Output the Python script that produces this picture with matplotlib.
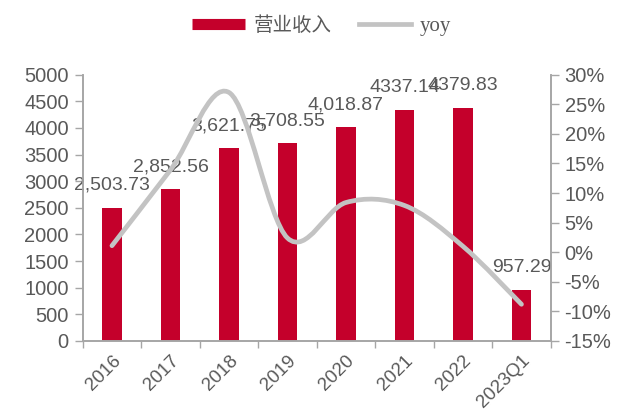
import numpy as np
import matplotlib.pyplot as plt
from matplotlib.path import Path
from matplotlib.patches import PathPatch
from matplotlib.lines import Line2D
from matplotlib.ticker import FuncFormatter, MultipleLocator, FixedLocator

# 营业收入（亿元）与同比增速
jaren = ['2016', '2017', '2018', '2019', '2020', '2021', '2022', '2023Q1']
omzet = [2503.73, 2852.56, 3621.75, 3708.55, 4018.87, 4337.14, 4379.83, 957.29]
yoy = [1.1, 13.9, 27.0, 2.4, 8.4, 7.9, 1.0, -8.8]
# 2021 en 2022 staan zonder duizendtal-komma in de labels
met_komma = [True, True, True, True, True, False, False, True]

rood = '#C4002B'
grijs_lijn = '#C3C3C3'
tekst = '#595959'
as_kleur = '#A6A6A6'

plt.rcParams['font.family'] = ['Liberation Sans', 'DejaVu Sans']

fig = plt.figure(figsize=(6.19, 4.17), dpi=100)
ax = fig.add_axes([0.1336, 0.1823, 0.8897 - 0.1336, 0.8209 - 0.1823])
ax2 = ax.twinx()

x = np.arange(len(jaren))
ax.bar(x, omzet, width=0.33, color=rood, zorder=2)

for xi, v, k in zip(x, omzet, met_komma):
    s = f'{v:,.2f}' if k else f'{v:.2f}'
    ax.annotate(s, (xi, v), xytext=(0, 10), textcoords='offset points',
                ha='center', va='bottom', fontsize=14, color=tekst, zorder=3)

ax.set_xlim(-0.5, len(jaren) - 0.5)
ax.set_ylim(0, 5000)
ax.yaxis.set_major_locator(MultipleLocator(500))
ax2.set_ylim(-15, 30)
ax2.yaxis.set_major_locator(MultipleLocator(5))
ax2.yaxis.set_major_formatter(FuncFormatter(lambda v, p: f'{v:.0f}%'))

# gladde lijn: bezier-segmenten (Catmull-Rom) door de yoy-punten
p = list(zip(x.astype(float), yoy))
verts = [p[0]]
codes = [Path.MOVETO]
for i in range(len(p) - 1):
    p0 = p[i - 1] if i > 0 else p[i]
    p1, p2 = p[i], p[i + 1]
    p3 = p[i + 2] if i + 2 < len(p) else p[i + 1]
    c1 = (p1[0] + (p2[0] - p0[0]) / 6, p1[1] + (p2[1] - p0[1]) / 6)
    c2 = (p2[0] - (p3[0] - p1[0]) / 6, p2[1] - (p3[1] - p1[1]) / 6)
    verts += [c1, c2, p2]
    codes += [Path.CURVE4] * 3
lijn = PathPatch(Path(verts, codes), facecolor='none', edgecolor=grijs_lijn,
                 lw=3.4, capstyle='round', joinstyle='round', zorder=4)
ax2.add_patch(lijn)
ax2.set_zorder(ax.get_zorder() + 1)
ax2.patch.set_visible(False)

# categorieen: labels in het midden, streepjes op de grenzen
ax.set_xticks(x)
ax.set_xticklabels(jaren, rotation=45, ha='right', rotation_mode='anchor')
ax.xaxis.set_minor_locator(FixedLocator(np.arange(-0.5, len(jaren), 1)))
ax.tick_params(axis='x', which='major', length=0, pad=8, labelsize=13.5, labelcolor=tekst)
ax.tick_params(axis='x', which='minor', length=5, width=1, color=as_kleur, direction='out')
ax.tick_params(axis='y', length=6, width=1, color=as_kleur, labelsize=14.5, labelcolor=tekst, pad=4)
ax2.tick_params(axis='y', length=6, width=1, color=as_kleur, labelsize=14.5, labelcolor=tekst, pad=4)

for a in (ax, ax2):
    a.spines['top'].set_visible(False)
    for s in ('left', 'right', 'bottom'):
        a.spines[s].set_color(as_kleur)
        a.spines[s].set_linewidth(1.2)

handles = [Line2D([], [], color=rood, lw=8, solid_capstyle='butt'),
           Line2D([], [], color=grijs_lijn, lw=3.4)]
leg = fig.legend(handles, ['营业收入', 'yoy'], loc='center', bbox_to_anchor=(0.52, 0.94),
                 ncol=2, frameon=False, handlelength=2.7, columnspacing=1.4,
                 handletextpad=0.45, fontsize=14)
leg.get_texts()[0].set_fontfamily(['Noto Sans CJK SC', 'DejaVu Sans'])
leg.get_texts()[1].set_fontfamily(['Liberation Serif', 'DejaVu Serif'])
leg.get_texts()[1].set_fontsize(15)
for t in leg.get_texts():
    t.set_color(tekst)

fig.savefig('out.png', dpi=100)
